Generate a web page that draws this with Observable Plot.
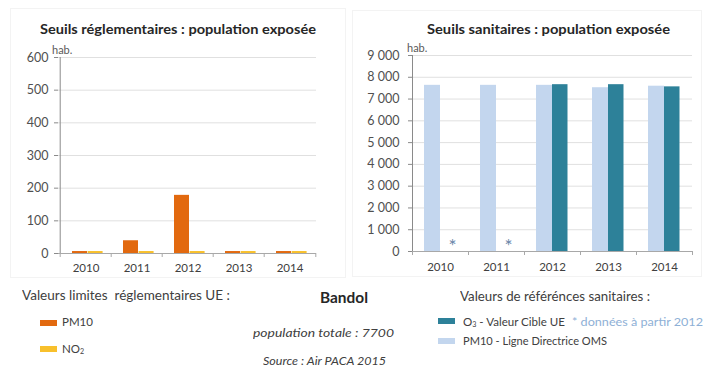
<!DOCTYPE html>
<html><head><meta charset="utf-8">
<script src="https://cdn.jsdelivr.net/npm/d3@7"></script>
<script src="https://cdn.jsdelivr.net/npm/@observablehq/plot@0.6"></script>
<style>
body{margin:0;background:#fff;}
#root{position:relative;width:705px;height:369px;overflow:hidden;font-family:Lato,"Open Sans",sans-serif;color:#404040;background:#fff;}
.t{position:absolute;white-space:pre;transform-origin:0 50%;}
.box{position:absolute;border:1px solid #f3f3f3;box-sizing:border-box;}
.sw{position:absolute;}
sub{font-size:0.62em;vertical-align:-0.2em;line-height:0;}
</style></head><body><div id="root"></div>
<script>
// ---- data ----
const years = ["2010", "2011", "2012", "2013", "2014"];
const pm10Reg = [6, 39, 178, 6, 6];        // PM10 - valeur limite UE (hab.)
const no2Reg = [6, 6, 6, 6, 6];            // NO2 - valeur limite UE (hab.)
const pm10Oms = [7630, 7630, 7630, 7520, 7590]; // PM10 - ligne directrice OMS
const o3Cible = [null, null, 7660, 7660, 7560]; // O3 - valeur cible UE
const regTicks = [0, 100, 200, 300, 400, 500, 600];
const sanTicks = [0, 1000, 2000, 3000, 4000, 5000, 6000, 7000, 8000, 9000];
const titleReg = "Seuils réglementaires : population exposée";
const titleSan = "Seuils sanitaires : population exposée";
const unitLabel = "hab.";
const commune = "Bandol";
const popText = "population totale : 7700";
const sourceText = "Source : Air PACA 2015";
const legRegTitle = "Valeurs limites  réglementaires UE :";
const legSanTitle = "Valeurs de référénces sanitaires :";
const legPM10 = "PM10";
const legNO2 = "NO<sub>2</sub>";
const legO3 = "O<sub>3</sub> - Valeur Cible UE";
const legNote = "* données à partir 2012";
const legOms = "PM10 - Ligne Directrice OMS";

const cPM10 = "#e2690f", cNO2 = "#f8c02c", cO3 = "#2d8199", cOms = "#c3d6ee";
const fmt = d => d3.format(",")(d).replace(/,/g, " ");

const root = document.getElementById("root");

function box(x, y, w, h) {
  const d = document.createElement("div");
  d.className = "box";
  Object.assign(d.style, {left: x + "px", top: y + "px", width: w + "px", height: h + "px"});
  root.appendChild(d);
}
function swatch(x, y, w, h, color) {
  const d = document.createElement("div");
  d.className = "sw";
  Object.assign(d.style, {left: x + "px", top: y + "px", width: w + "px", height: h + "px", background: color});
  root.appendChild(d);
}
function text(html, x, cy, w, size, opts = {}) {
  const d = document.createElement("div");
  d.className = "t";
  d.innerHTML = html;
  const lh = size * 1.2;
  Object.assign(d.style, {
    left: x + "px", top: (cy - lh / 2) + "px", fontSize: size + "px", lineHeight: lh + "px",
    fontWeight: opts.weight || 400, fontStyle: opts.italic ? "italic" : "normal",
    color: opts.color || "#404040"
  });
  root.appendChild(d);
  const nat = d.getBoundingClientRect().width;
  if (w && nat > 0) d.style.transform = `scaleX(${w / nat})`;
  return d;
}

// chart frames
box(10, 8, 336, 270);
box(352, 10, 350, 267);

// ---- left chart ----
const L = {w: 340, h: 280, ml: 58, mr: 24, mt: 57, mb: 27};
const bwL = (L.w - L.ml - L.mr) / years.length;
const axisCol = "#8a8a8a";
const left = Plot.plot({
  width: L.w, height: L.h, marginLeft: L.ml, marginRight: L.mr, marginTop: L.mt, marginBottom: L.mb,
  style: {fontFamily: "Lato, sans-serif", fontSize: "12px", color: "#595959", background: "transparent", overflow: "visible"},
  x: {type: "band", domain: years, padding: 0},
  y: {domain: [0, regTicks.at(-1)]},
  marks: [
    Plot.gridY({ticks: regTicks, stroke: "#e0e0e0", strokeOpacity: 1}),
    Plot.barY(years, {x: d => d, y: (d, i) => pm10Reg[i], fill: cPM10, insetLeft: 12, insetRight: bwL - 27.6}),
    Plot.barY(years, {x: d => d, y: (d, i) => no2Reg[i], fill: cNO2, insetLeft: 27.6, insetRight: bwL - 43.2}),
    Plot.ruleY([0], {stroke: "#a8a8a8"}),
    Plot.ruleX([years[0]], {x: d => d, dx: -bwL / 2, y1: 0, y2: regTicks.at(-1), stroke: axisCol}),
    Plot.ruleX(years, {x: d => d, dx: -bwL / 2, y1: 0, y2: 0, insetBottom: -4, stroke: "#a8a8a8"}),
    Plot.ruleX([years.at(-1)], {x: d => d, dx: bwL / 2, y1: 0, y2: 0, insetBottom: -4, stroke: "#a8a8a8"}),
    Plot.axisY({ticks: regTicks, tickSize: 4, tickPadding: 6, stroke: axisCol, fill: "#505050", fontSize: 12.5, label: null}),
    Plot.axisX({tickSize: 0, tickPadding: 10, fill: "#404040", fontSize: 11.5, label: null})
  ]
});
Object.assign(left.style, {position: "absolute", left: "0px", top: "0px"});
root.appendChild(left);

// ---- right chart ----
const R = {x: 350, w: 355, h: 280, ml: 62, mr: 13, mt: 55, mb: 29};
const bwR = (R.w - R.ml - R.mr) / years.length;
const right = Plot.plot({
  width: R.w, height: R.h, marginLeft: R.ml, marginRight: R.mr, marginTop: R.mt, marginBottom: R.mb,
  style: {fontFamily: "Lato, sans-serif", fontSize: "12px", color: "#595959", background: "transparent", overflow: "visible"},
  x: {type: "band", domain: years, padding: 0},
  y: {domain: [0, sanTicks.at(-1)]},
  marks: [
    Plot.gridY({ticks: sanTicks, stroke: "#e0e0e0", strokeOpacity: 1}),
    Plot.barY(years, {x: d => d, y: (d, i) => pm10Oms[i], fill: cOms, insetLeft: 12, insetRight: bwR - 28}),
    Plot.barY(years.filter((d, i) => o3Cible[i] != null), {x: d => d, y: d => o3Cible[years.indexOf(d)], fill: cO3, insetLeft: 28, insetRight: bwR - 43.5}),
    Plot.text(years.filter((d, i) => o3Cible[i] == null), {x: d => d, y: 0, text: () => "*", dx: 12, dy: -5, fill: "#6a84a8", fontSize: 19}),
    Plot.ruleY([0], {stroke: "#a8a8a8"}),
    Plot.ruleX([years[0]], {x: d => d, dx: -bwR / 2, y1: 0, y2: sanTicks.at(-1), stroke: axisCol}),
    Plot.ruleX(years, {x: d => d, dx: -bwR / 2, y1: 0, y2: 0, insetBottom: -4, stroke: "#a8a8a8"}),
    Plot.ruleX([years.at(-1)], {x: d => d, dx: bwR / 2, y1: 0, y2: 0, insetBottom: -4, stroke: "#a8a8a8"}),
    Plot.axisY({ticks: sanTicks, tickFormat: fmt, tickSize: 4, tickPadding: 9, stroke: axisCol, fill: "#505050", fontSize: 12.5, label: null}),
    Plot.axisX({tickSize: 0, tickPadding: 11, fill: "#404040", fontSize: 11.5, label: null})
  ]
});
Object.assign(right.style, {position: "absolute", left: R.x + "px", top: "0px"});
root.appendChild(right);

// ---- titles & units ----
text(titleReg, 40, 29, 276, 14, {weight: 700, color: "#262626"});
text(titleSan, 427, 29, 243, 14, {weight: 700, color: "#262626"});
text(unitLabel, 52, 50, null, 11, {color: "#595959"});
text(unitLabel, 407, 48, null, 11, {color: "#595959"});

// ---- bottom legends & notes ----
text(legRegTitle, 22, 295, 208, 12.5);
swatch(40, 319.5, 17, 6, cPM10);
text(legPM10, 62, 322, null, 11.5);
swatch(40, 346, 17, 6, cNO2);
text(legNO2, 62, 349, null, 11.5);

text(commune, 320, 297, 48, 15, {weight: 700, color: "#262626"});
text(popText, 253, 333, 141, 12, {italic: true});
text(sourceText, 263, 361, 123, 11, {italic: true});

text(legSanTitle, 460, 296, 190, 12.5);
swatch(438, 317.5, 17, 6, cO3);
text(legO3, 463, 322, 102, 11);
text(legNote, 572, 322, 131, 11, {color: "#8eb0d6"});
swatch(438, 338, 17, 6, cOms);
text(legOms, 463, 341, 144, 11);
</script>
</body></html>
